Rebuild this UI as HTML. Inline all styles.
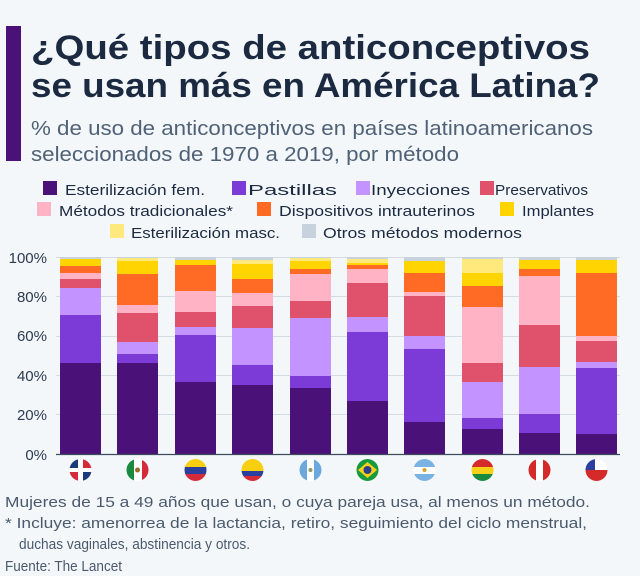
<!DOCTYPE html>
<html><head><meta charset="utf-8"><style>
html,body{margin:0;padding:0;background:#f4f7fa;}
svg{display:block;font-family:"Liberation Sans",sans-serif;}
</style></head><body>
<svg width="640" height="576" viewBox="0 0 640 576" xmlns="http://www.w3.org/2000/svg">
<rect width="640" height="576" fill="#f4f7fa"/>
<rect x="6" y="26" width="15" height="135" fill="#4a1278"/>
<g fill="#1b2a40" font-weight="bold" font-size="34">
<text x="31" y="59" textLength="559" lengthAdjust="spacingAndGlyphs">¿Qué tipos de anticonceptivos</text>
<text x="31" y="97" textLength="569" lengthAdjust="spacingAndGlyphs">se usan más en América Latina?</text>
</g>
<g fill="#4f6176" font-size="20">
<text x="31" y="135" textLength="562" lengthAdjust="spacingAndGlyphs">% de uso de anticonceptivos en países latinoamericanos</text>
<text x="31" y="161" textLength="428" lengthAdjust="spacingAndGlyphs">seleccionados de 1970 a 2019, por método</text>
</g>
<g font-size="15" fill="#1b2a40">
<rect x="43" y="181" width="14" height="14" fill="#4a1278"/><text x="65" y="195" textLength="140" lengthAdjust="spacingAndGlyphs">Esterilización fem.</text>
<rect x="232" y="181" width="14" height="14" fill="#7c3ad6"/><text x="248" y="195" textLength="89" lengthAdjust="spacingAndGlyphs">Pastillas</text>
<rect x="356" y="181" width="14" height="14" fill="#c393ff"/><text x="371" y="195" textLength="99" lengthAdjust="spacingAndGlyphs">Inyecciones</text>
<rect x="480" y="181" width="14" height="14" fill="#e0516b"/><text x="495" y="195" textLength="93" lengthAdjust="spacingAndGlyphs">Preservativos</text>
<rect x="37" y="202" width="14" height="14" fill="#ffb3c4"/><text x="59" y="216" textLength="174" lengthAdjust="spacingAndGlyphs">Métodos tradicionales*</text>
<rect x="257" y="202" width="14" height="14" fill="#ff6b24"/><text x="279" y="216" textLength="196" lengthAdjust="spacingAndGlyphs">Dispositivos intrauterinos</text>
<rect x="500" y="202" width="14" height="14" fill="#ffd400"/><text x="522" y="216" textLength="72" lengthAdjust="spacingAndGlyphs">Implantes</text>
<rect x="110" y="224" width="14" height="14" fill="#ffe87c"/><text x="131" y="238" textLength="149" lengthAdjust="spacingAndGlyphs">Esterilización masc.</text>
<rect x="302" y="224" width="14" height="14" fill="#c8d2dc"/><text x="323" y="238" textLength="199" lengthAdjust="spacingAndGlyphs">Otros métodos modernos</text>
</g>
<g stroke="#d3dbe3" stroke-width="1">
<line x1="56" x2="620" y1="257.5" y2="257.5"/><line x1="56" x2="620" y1="296.5" y2="296.5"/>
<line x1="56" x2="620" y1="336.5" y2="336.5"/><line x1="56" x2="620" y1="375.5" y2="375.5"/>
<line x1="56" x2="620" y1="414.5" y2="414.5"/>
</g>
<g font-size="15" fill="#2c3b4f" text-anchor="end">
<text x="47" y="263">100%</text><text x="47" y="302">80%</text><text x="47" y="341">60%</text>
<text x="47" y="381">40%</text><text x="47" y="420">20%</text><text x="47" y="460">0%</text>
</g>
<!-- DR -->
<g>
<rect x="60" y="257" width="41" height="2" fill="#c8d2dc"/><rect x="60" y="259" width="41" height="7" fill="#ffd400"/><rect x="60" y="266" width="41" height="7" fill="#ff6b24"/><rect x="60" y="273" width="41" height="6" fill="#ffb3c4"/><rect x="60" y="279" width="41" height="9" fill="#e0516b"/><rect x="60" y="288" width="41" height="27" fill="#c393ff"/><rect x="60" y="315" width="41" height="48" fill="#7c3ad6"/><rect x="60" y="363" width="41" height="91" fill="#4a1278"/>
</g>
<!-- MX -->
<g>
<rect x="117" y="257" width="41" height="1" fill="#c8d2dc"/><rect x="117" y="258" width="41" height="3" fill="#ffe87c"/><rect x="117" y="261" width="41" height="13" fill="#ffd400"/><rect x="117" y="274" width="41" height="31" fill="#ff6b24"/><rect x="117" y="305" width="41" height="8" fill="#ffb3c4"/><rect x="117" y="313" width="41" height="29" fill="#e0516b"/><rect x="117" y="342" width="41" height="12" fill="#c393ff"/><rect x="117" y="354" width="41" height="9" fill="#7c3ad6"/><rect x="117" y="363" width="41" height="91" fill="#4a1278"/>
</g>
<!-- VE -->
<g>
<rect x="175" y="257" width="41" height="3" fill="#c8d2dc"/><rect x="175" y="260" width="41" height="5" fill="#ffd400"/><rect x="175" y="265" width="41" height="26" fill="#ff6b24"/><rect x="175" y="291" width="41" height="21" fill="#ffb3c4"/><rect x="175" y="312" width="41" height="15" fill="#e0516b"/><rect x="175" y="327" width="41" height="8" fill="#c393ff"/><rect x="175" y="335" width="41" height="47" fill="#7c3ad6"/><rect x="175" y="382" width="41" height="72" fill="#4a1278"/>
</g>
<!-- CO -->
<g>
<rect x="232" y="257" width="41" height="3" fill="#c8d2dc"/><rect x="232" y="260" width="41" height="4" fill="#ffe87c"/><rect x="232" y="264" width="41" height="15" fill="#ffd400"/><rect x="232" y="279" width="41" height="14" fill="#ff6b24"/><rect x="232" y="293" width="41" height="13" fill="#ffb3c4"/><rect x="232" y="306" width="41" height="22" fill="#e0516b"/><rect x="232" y="328" width="41" height="37" fill="#c393ff"/><rect x="232" y="365" width="41" height="20" fill="#7c3ad6"/><rect x="232" y="385" width="41" height="69" fill="#4a1278"/>
</g>
<!-- GT -->
<g>
<rect x="290" y="257" width="41" height="1" fill="#c8d2dc"/><rect x="290" y="258" width="41" height="3" fill="#ffe87c"/><rect x="290" y="261" width="41" height="8" fill="#ffd400"/><rect x="290" y="269" width="41" height="5" fill="#ff6b24"/><rect x="290" y="274" width="41" height="27" fill="#ffb3c4"/><rect x="290" y="301" width="41" height="17" fill="#e0516b"/><rect x="290" y="318" width="41" height="58" fill="#c393ff"/><rect x="290" y="376" width="41" height="12" fill="#7c3ad6"/><rect x="290" y="388" width="41" height="66" fill="#4a1278"/>
</g>
<!-- BR -->
<g>
<rect x="347" y="257" width="41" height="2" fill="#c8d2dc"/><rect x="347" y="259" width="41" height="4" fill="#ffe87c"/><rect x="347" y="263" width="41" height="2" fill="#ffd400"/><rect x="347" y="265" width="41" height="4" fill="#ff6b24"/><rect x="347" y="269" width="41" height="14" fill="#ffb3c4"/><rect x="347" y="283" width="41" height="34" fill="#e0516b"/><rect x="347" y="317" width="41" height="15" fill="#c393ff"/><rect x="347" y="332" width="41" height="69" fill="#7c3ad6"/><rect x="347" y="401" width="41" height="53" fill="#4a1278"/>
</g>
<!-- AR -->
<g>
<rect x="404" y="257" width="41" height="4" fill="#c8d2dc"/><rect x="404" y="261" width="41" height="12" fill="#ffd400"/><rect x="404" y="273" width="41" height="19" fill="#ff6b24"/><rect x="404" y="292" width="41" height="4" fill="#ffb3c4"/><rect x="404" y="296" width="41" height="40" fill="#e0516b"/><rect x="404" y="336" width="41" height="13" fill="#c393ff"/><rect x="404" y="349" width="41" height="73" fill="#7c3ad6"/><rect x="404" y="422" width="41" height="32" fill="#4a1278"/>
</g>
<!-- BO -->
<g>
<rect x="462" y="257" width="41" height="2" fill="#c8d2dc"/><rect x="462" y="259" width="41" height="14" fill="#ffe87c"/><rect x="462" y="273" width="41" height="13" fill="#ffd400"/><rect x="462" y="286" width="41" height="21" fill="#ff6b24"/><rect x="462" y="307" width="41" height="56" fill="#ffb3c4"/><rect x="462" y="363" width="41" height="19" fill="#e0516b"/><rect x="462" y="382" width="41" height="36" fill="#c393ff"/><rect x="462" y="418" width="41" height="11" fill="#7c3ad6"/><rect x="462" y="429" width="41" height="25" fill="#4a1278"/>
</g>
<!-- PE -->
<g>
<rect x="519" y="257" width="41" height="3" fill="#c8d2dc"/><rect x="519" y="260" width="41" height="9" fill="#ffd400"/><rect x="519" y="269" width="41" height="7" fill="#ff6b24"/><rect x="519" y="276" width="41" height="49" fill="#ffb3c4"/><rect x="519" y="325" width="41" height="42" fill="#e0516b"/><rect x="519" y="367" width="41" height="47" fill="#c393ff"/><rect x="519" y="414" width="41" height="19" fill="#7c3ad6"/><rect x="519" y="433" width="41" height="21" fill="#4a1278"/>
</g>
<!-- CL -->
<g>
<rect x="576" y="257" width="41" height="3" fill="#c8d2dc"/><rect x="576" y="260" width="41" height="13" fill="#ffd400"/><rect x="576" y="273" width="41" height="63" fill="#ff6b24"/><rect x="576" y="336" width="41" height="5" fill="#ffb3c4"/><rect x="576" y="341" width="41" height="21" fill="#e0516b"/><rect x="576" y="362" width="41" height="6" fill="#c393ff"/><rect x="576" y="368" width="41" height="66" fill="#7c3ad6"/><rect x="576" y="434" width="41" height="20" fill="#4a1278"/>
</g>
<line x1="56" x2="620" y1="454.5" y2="454.5" stroke="#3d4b5c" stroke-width="1.2"/>
<defs>
<clipPath id="c1"><circle cx="80.5" cy="470" r="11"/></clipPath>
<clipPath id="c2"><circle cx="137.5" cy="470" r="11"/></clipPath>
<clipPath id="c3"><circle cx="195.5" cy="470" r="11"/></clipPath>
<clipPath id="c4"><circle cx="252.5" cy="470" r="11"/></clipPath>
<clipPath id="c5"><circle cx="310.5" cy="470" r="11"/></clipPath>
<clipPath id="c6"><circle cx="367.5" cy="470" r="11"/></clipPath>
<clipPath id="c7"><circle cx="424.5" cy="470" r="11"/></clipPath>
<clipPath id="c8"><circle cx="482.5" cy="470" r="11"/></clipPath>
<clipPath id="c9"><circle cx="539.5" cy="470" r="11"/></clipPath>
<clipPath id="c10"><circle cx="596.5" cy="470" r="11"/></clipPath>
</defs>
<g clip-path="url(#c1)"><rect x="69" y="459" width="23" height="23" fill="#fff"/><rect x="69" y="459" width="9" height="9" fill="#1c3b7a"/><rect x="83" y="459" width="9" height="9" fill="#d42a3a"/><rect x="69" y="472" width="9" height="10" fill="#d42a3a"/><rect x="83" y="472" width="9" height="10" fill="#1c3b7a"/></g>
<g clip-path="url(#c2)"><rect x="126" y="459" width="8" height="23" fill="#1a8a3e"/><rect x="134" y="459" width="8" height="23" fill="#fff"/><rect x="142" y="459" width="8" height="23" fill="#d42a3a"/><circle cx="137.5" cy="470" r="2.5" fill="#9a6a2a"/></g>
<g clip-path="url(#c3)"><rect x="184" y="459" width="23" height="8" fill="#f7cf10"/><rect x="184" y="467" width="23" height="7" fill="#2a3f9e"/><rect x="184" y="474" width="23" height="8" fill="#d42a3a"/></g>
<g clip-path="url(#c4)"><rect x="241" y="459" width="23" height="12" fill="#f7cf10"/><rect x="241" y="471" width="23" height="5" fill="#2a3f9e"/><rect x="241" y="476" width="23" height="6" fill="#d42a3a"/></g>
<g clip-path="url(#c5)"><rect x="299" y="459" width="23" height="23" fill="#fff"/><rect x="299" y="459" width="8" height="23" fill="#6aa8de"/><rect x="314" y="459" width="8" height="23" fill="#6aa8de"/><circle cx="310.5" cy="470" r="2" fill="#8a9a6a"/></g>
<g clip-path="url(#c6)"><rect x="356" y="459" width="23" height="23" fill="#1a9a3e"/><polygon points="358,470 367.5,462 377,470 367.5,478" fill="#f7d117"/><circle cx="367.5" cy="470" r="4" fill="#2a3f8e"/></g>
<g clip-path="url(#c7)"><rect x="413" y="459" width="23" height="23" fill="#fff"/><rect x="413" y="459" width="23" height="8" fill="#7ab2e4"/><rect x="413" y="474" width="23" height="8" fill="#7ab2e4"/><circle cx="424.5" cy="470" r="2" fill="#d9a22a"/></g>
<g clip-path="url(#c8)"><rect x="471" y="459" width="23" height="8" fill="#d42a2a"/><rect x="471" y="467" width="23" height="7" fill="#f7d117"/><rect x="471" y="474" width="23" height="8" fill="#1a8a3e"/></g>
<g clip-path="url(#c9)"><rect x="528" y="459" width="23" height="23" fill="#fff"/><rect x="528" y="459" width="8" height="23" fill="#d42a2a"/><rect x="543" y="459" width="8" height="23" fill="#d42a2a"/></g>
<g clip-path="url(#c10)"><rect x="585" y="459" width="23" height="11" fill="#fff"/><rect x="585" y="470" width="23" height="12" fill="#d42a2a"/><rect x="585" y="459" width="10" height="11" fill="#2a3f9e"/></g>
<g font-size="15" fill="#4a5a6c">
<text x="5" y="507" textLength="585" lengthAdjust="spacingAndGlyphs">Mujeres de 15 a 49 años que usan, o cuya pareja usa, al menos un método.</text>
<text x="5" y="528" textLength="582" lengthAdjust="spacingAndGlyphs">* Incluye: amenorrea de la lactancia, retiro, seguimiento del ciclo menstrual,</text>
<text x="19" y="549" textLength="231" lengthAdjust="spacingAndGlyphs">duchas vaginales, abstinencia y otros.</text>
<text x="5" y="571" textLength="117" lengthAdjust="spacingAndGlyphs">Fuente: The Lancet</text>
</g>
</svg>
</body></html>
